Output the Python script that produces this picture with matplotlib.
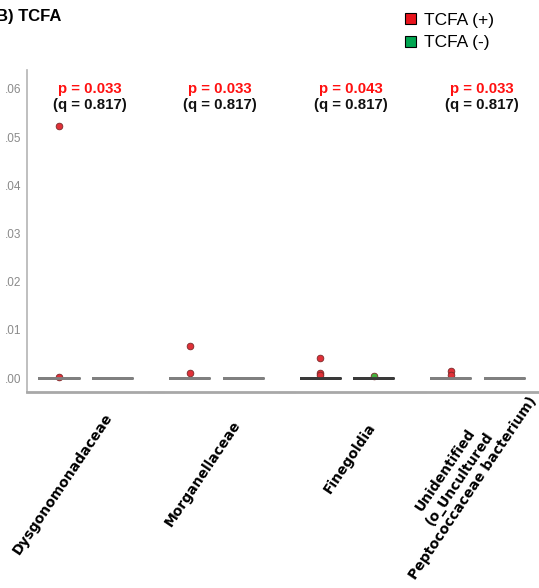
import matplotlib
matplotlib.use('Agg')
import matplotlib.pyplot as plt
import matplotlib.transforms as mtransforms
from matplotlib.patches import Patch
from matplotlib.ticker import FuncFormatter

taxa = ['Dysgonomonadaceae', 'Morganellaceae', 'Finegoldia',
        'Unidentified\n(o_Uncultured\nPeptococcaceae bacterium)']

# relative abundance per sample: non-zero values, the rest of each group is zero
pos_nonzero = [[0.0523, 0.0003], [0.0066, 0.0010], [0.0042, 0.0010, 0.0006], [0.0015, 0.0007]]
neg_nonzero = [[], [], [0.0004], []]
n_pos = 14
n_neg = 30

p_values = [0.033, 0.033, 0.043, 0.033]
q_values = [0.817, 0.817, 0.817, 0.817]

red = '#e8141c'
green = '#00a651'

def with_zeros(vals, n):
    return list(vals) + [0.0] * (n - len(vals))

fig = plt.figure(figsize=(5.39, 5.88), dpi=100)
ax = fig.add_axes([27 / 539, 196 / 588, 512 / 539, 322 / 588])

offset = 0.205
xs = list(range(len(taxa)))

def draw(data, pos, face, line_colors):
    bp = ax.boxplot(data, positions=pos, widths=0.30, showcaps=False,
                    patch_artist=False, manage_ticks=False,
                    whiskerprops=dict(linewidth=1),
                    medianprops=dict(linewidth=2),
                    boxprops=dict(linewidth=2),
                    flierprops=dict(marker='o', markersize=4.8, markerfacecolor=face,
                                    markeredgecolor='#7a2a2a', markeredgewidth=0.6))
    for i, c in enumerate(line_colors):
        bp['boxes'][i].set_color(c)
        bp['medians'][i].set_color(c)
        for w in bp['whiskers'][2 * i:2 * i + 2]:
            w.set_color(c)

line_colors = ['#808080', '#808080', '#3a3a3a', '#808080']
draw([with_zeros(v, n_pos) for v in pos_nonzero], [x - offset for x in xs], '#e03038', line_colors)
draw([with_zeros(v, n_neg) for v in neg_nonzero], [x + offset for x in xs], '#44b03c', line_colors)

for x, p, q in zip(xs, p_values, q_values):
    ax.text(x + 0.03, 0.0600, f'p = {p:.3f}', color='#ff1010', ha='center', va='center',
            fontsize=10.8, fontweight='bold', family='Liberation Sans')
    ax.text(x + 0.03, 0.0567, f'(q = {q:.3f})', color='#111111', ha='center', va='center',
            fontsize=10.8, fontweight='bold', family='Liberation Sans')

ax.set_xlim(-0.45, 3.47)
ax.set_ylim(-0.0029, 0.0639)
ax.set_yticks([0, 0.01, 0.02, 0.03, 0.04, 0.05, 0.06])
ax.yaxis.set_major_formatter(FuncFormatter(lambda v, _: f'{v:.2f}'.lstrip('0')))
ax.tick_params(axis='y', length=0, pad=4, labelsize=8.5, labelcolor='#8a8a8a')
for lbl in ax.get_yticklabels():
    lbl.set_family('Liberation Sans')

ax.set_xticks(xs)
ax.set_xticklabels(taxa, rotation=56, ha='right', va='center', rotation_mode='anchor',
                   fontsize=10, fontweight='bold', multialignment='center')
ax.tick_params(axis='x', which='major', length=0)
label_shift = [(17.0, -13), (15.5, -18), (18.3, -20), (30.5, 5.8)]
for lbl, (dx, dy) in zip(ax.get_xticklabels(), label_shift):
    lbl.set_transform(lbl.get_transform() +
                      mtransforms.ScaledTranslation(dx / 72, dy / 72, fig.dpi_scale_trans))

# pale breaks in the bottom axis between taxa
ax.set_xticks([0.54, 1.54, 2.54], minor=True)
ax.tick_params(axis='x', which='minor', length=1.5, width=12, color='#e8e8e8', direction='inout')

for side in ['top', 'right']:
    ax.spines[side].set_visible(False)
ax.spines['left'].set_color('#b4b4b4')
ax.spines['left'].set_linewidth(1.2)
ax.spines['bottom'].set_color('#a8a8a8')
ax.spines['bottom'].set_linewidth(2)

fig.text(-4 / 539, 1 - 17 / 588, 'B) TCFA', fontsize=12, fontweight='bold',
         family='Liberation Sans', va='center', ha='left')

handles = [Patch(facecolor=red, edgecolor='black', linewidth=0.8, label='TCFA (+)'),
           Patch(facecolor=green, edgecolor='black', linewidth=0.8, label='TCFA (-)')]
fig.legend(handles=handles, loc='upper left', bbox_to_anchor=(389 / 539, 1 + 3 / 588),
           frameon=False, handlelength=0.65, handleheight=0.65, handletextpad=0.45,
           labelspacing=0.45, prop=dict(family='Liberation Sans', size=12.5))

fig.savefig('out.png', dpi=100)
